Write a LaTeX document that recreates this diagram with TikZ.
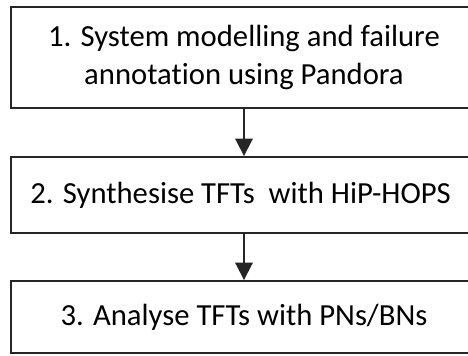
\documentclass[tikz,border=0pt]{standalone}
\usepackage{fontspec}
\setmainfont[Ligatures=NoCommon]{Carlito}
\usetikzlibrary{arrows.meta,positioning}
\tikzset{
  stage/.style={draw=black!85, line width=1.4pt, fill=white, align=center,
    minimum width=349.5pt, inner sep=0pt,
    font=\fontsize{23}{28.5}\selectfont},
  flow/.style={draw=black!85, line width=1.4pt,
    -{Triangle[length=13pt,width=13pt]}}
}

\begin{document}
\begin{tikzpicture}[x=0.75pt,y=-0.75pt]
		%%%%% START %%%%%
		\clip (0, 0) rectangle (468, 356);
		\fill[white] (0, 0) rectangle (468, 356);
		
		\node[stage, minimum height=75.75pt] (model) at (244, 57.5)
			{1. System modelling and failure\\annotation using Pandora};
		\node[stage, minimum height=57pt] (synth) at (244, 195)
			{2. Synthesise TFTs\ \ with HiP-HOPS\hspace*{5pt}};
		\node[stage, minimum height=54pt] (analyse) at (244, 317)
			{3. Analyse TFTs with PNs/BNs};
		
		\draw[flow] (model) -- (synth);
		\draw[flow] (synth) -- (analyse);
		%%%%% END %%%%%
	\end{tikzpicture}
\end{document}
